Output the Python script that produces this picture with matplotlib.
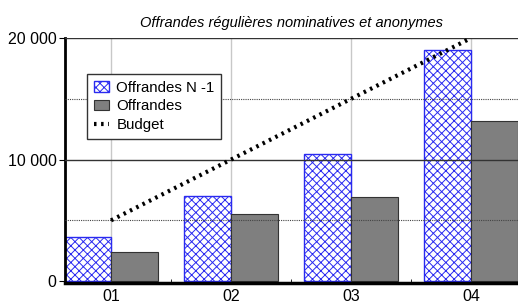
import matplotlib.pyplot as plt
import numpy as np

mois = ['01', '02', '03', '04']
offrandes_n1 = [3600, 7000, 10500, 19000]
offrandes = [2400, 5500, 6950, 13200]
budget = [5000, 10000, 15000, 20000]

plt.rcParams['font.family'] = ['Liberation Sans', 'DejaVu Sans']
plt.rcParams['hatch.linewidth'] = 0.7
plt.rcParams['hatch.color'] = '#4a4ad0'

fig = plt.figure(figsize=(5.18, 3.05), dpi=100)
ax = fig.add_axes([65/518, 1-283/305, (518-65)/518, (283-38)/305])

x = np.arange(len(mois))
w = 0.39
for xi in x:
    ax.axvline(xi, color='#c8c8c8', lw=1, zorder=0)

b1 = ax.bar(x - w/2, offrandes_n1, w, color='white', edgecolor='#2a2af0', hatch='xxxx',
            lw=1, zorder=2, label='Offrandes N -1')
b2 = ax.bar(x + w/2, offrandes, w, color='#7f7f7f', edgecolor='#333333', lw=0.8,
            zorder=2, label='Offrandes')
l1, = ax.plot(x, budget, color='black', ls=(0, (0.6, 1.1)), lw=3, zorder=4, label='Budget')

for yv in [10000, 20000]:
    ax.axhline(yv, color='#333333', lw=1, zorder=3)
for yv in [5000, 15000]:
    ax.axhline(yv, color='#444444', lw=0.8, ls=(0, (1, 1)), zorder=3)

ax.set_xlim(-0.383, 3.39)
ax.set_ylim(-150, 20000)
ax.set_xticks(x)
ax.set_xticklabels(mois)
ax.set_xticks(np.arange(-0.25, 3.4, 0.25), minor=True)
ax.set_yticks([0, 10000, 20000])
ax.set_yticklabels(['0', '10 000', '20 000'])
ax.tick_params(axis='x', which='both', direction='in', length=3, labelsize=11.5, pad=4)
ax.tick_params(axis='y', direction='out', length=4, labelsize=11.5, pad=2)
for s in ['top', 'right']:
    ax.spines[s].set_visible(False)
ax.spines['left'].set_linewidth(2)
ax.spines['bottom'].set_linewidth(2.5)

ax.set_title('Offrandes régulières nominatives et anonymes', fontstyle='italic',
             fontsize=10.5, pad=8)

leg = ax.legend([b1, b2, l1], ['Offrandes N -1', 'Offrandes', 'Budget'],
                loc='upper left', bbox_to_anchor=(0.0486, 0.853), borderaxespad=0,
                fontsize=10.8, fancybox=False, edgecolor='#333333', framealpha=1,
                handlelength=1.0, handletextpad=0.5, borderpad=0.45, labelspacing=0.3)
leg.get_frame().set_linewidth(1)

fig.savefig('out.png', dpi=100)
